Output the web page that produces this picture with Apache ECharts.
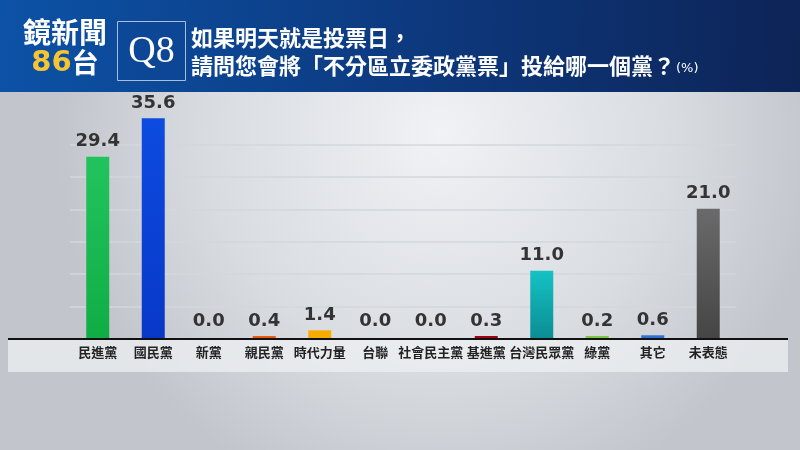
<!DOCTYPE html>
<html><head><meta charset="utf-8">
<script src="https://cdn.jsdelivr.net/npm/echarts@6/dist/echarts.min.js"></script>
<style>html,body{margin:0;padding:0;background:#d0d3d8}#c{width:800px;height:450px}</style>
</head><body><div id="c"></div>
<script>
const categories = ['民進黨','國民黨','新黨','親民黨','時代力量','台聯','社會民主黨','基進黨','台灣民眾黨','綠黨','其它','未表態'];
const values = [29.4, 35.6, 0.0, 0.4, 1.4, 0.0, 0.0, 0.3, 11.0, 0.2, 0.6, 21.0];
const brandLine1 = '鏡新聞';
const brandNum = '86';
const brandTail = '台';
const qLabel = 'Q8';
const titleLine1 = '如果明天就是投票日，';
const titleLine2 = '請問您會將「不分區立委政黨票」投給哪一個黨？';
const unitText = '(%)';

function vgrad(top, bottom){
  return {type:'linear',x:0,y:0,x2:0,y2:1,colorStops:[{offset:0,color:top},{offset:1,color:bottom}]};
}
const barColors = [
  vgrad('#22c35e','#10ad45'),
  vgrad('#0d4be0','#0838c8'),
  'transparent',
  '#e95a0c',
  '#f7ad00',
  'transparent',
  'transparent',
  '#a50010',
  vgrad('#15c2c4','#0a8d93'),
  '#7cc742',
  '#2f6fd6',
  vgrad('#6a6a6a','#454545')
];

const chart = echarts.init(document.getElementById('c'), null, {renderer:'canvas'});
const option = {
  animation:false,
  backgroundColor:{type:'radial',x:0.55,y:0.3,r:0.85,colorStops:[{offset:0,color:'#f0f2f5'},{offset:0.6,color:'#d9dce1'},{offset:1,color:'#c2c5cb'}]},
  grid:{left:70,right:64,top:112,bottom:111,containLabel:false},
  xAxis:{type:'category',data:categories,
    axisLine:{show:true,lineStyle:{color:'#111',width:2}},
    axisTick:{show:false},
    axisLabel:{interval:0,margin:7,fontFamily:'Noto Sans CJK TC',fontWeight:'bold',fontSize:13,color:'#222'},
    z:5},
  yAxis:[
    {type:'value',min:0,max:36.6,show:false,splitLine:{show:false}},
    {type:'value',min:0,max:7,interval:1,position:'left',
     axisLine:{show:false},axisTick:{show:false},axisLabel:{show:false},
     splitLine:{show:true,showMinLine:false,showMaxLine:false,lineStyle:{color:'#d3d7dd',width:1.5}}}
  ],
  series:[{
    type:'bar',yAxisIndex:0,barWidth:23,barMinHeight:3,
    data:values.map((v,i)=>({value:v,itemStyle:{color:barColors[i]}})),
    label:{show:true,position:'top',distance:6,formatter:p=>p.value.toFixed(1),
      fontFamily:'DejaVu Sans',fontWeight:'bold',fontSize:18,color:'#333'}
  }]
};
chart.setOption(option);

const baseY = chart.convertToPixel({yAxisIndex:0},0);
chart.setOption({
  graphic:[
    {type:'rect',z:-1,shape:{x:8,y:baseY,width:780,height:372-baseY},style:{fill:'rgba(238,240,243,0.75)'}},
    {type:'line',z:4,shape:{x1:8,y1:baseY,x2:788,y2:baseY},style:{stroke:'#111',lineWidth:2}},
    {type:'rect',z:10,shape:{x:0,y:0,width:800,height:92},
      style:{fill:{type:'linear',x:0,y:0,x2:1,y2:0.3,colorStops:[{offset:0,color:'#0c52a6'},{offset:0.5,color:'#0d3a80'},{offset:1,color:'#0d2457'}]}}},
    {type:'text',z:11,style:{x:65,y:32,text:brandLine1,align:'center',verticalAlign:'middle',fill:'#fff',font:'bold 28px "Noto Sans CJK TC"'}},
    {type:'text',z:11,style:{x:65,y:63,text:'{a|'+brandNum+'}{b|'+brandTail+'}',align:'center',verticalAlign:'middle',
      rich:{a:{fill:'#f7c531',font:'bold 29px "DejaVu Sans"'},b:{fill:'#fff',font:'bold 27px "Noto Sans CJK TC"'}}}},
    {type:'rect',z:11,shape:{x:117.5,y:21.5,width:68,height:59},style:{fill:'rgba(15,70,150,0.35)',stroke:'#a9bedd',lineWidth:1}},
    {type:'text',z:12,style:{x:151.5,y:52,text:qLabel,align:'center',verticalAlign:'middle',fill:'#fff',font:'38px "Liberation Serif"'}},
    {type:'text',z:11,style:{x:191,y:38,text:titleLine1,align:'left',verticalAlign:'middle',fill:'#fff',font:'bold 22px "Noto Sans CJK TC"'}},
    {type:'text',z:11,style:{x:191,y:66,text:'{t|'+titleLine2+'}{p|'+unitText+'}',align:'left',verticalAlign:'middle',
      rich:{t:{fill:'#fff',font:'bold 22px "Noto Sans CJK TC"',verticalAlign:'bottom'},p:{fill:'#fff',font:'13px "DejaVu Sans"',verticalAlign:'bottom',padding:[0,0,2,1]}}}}
  ]
});
</script></body></html>
